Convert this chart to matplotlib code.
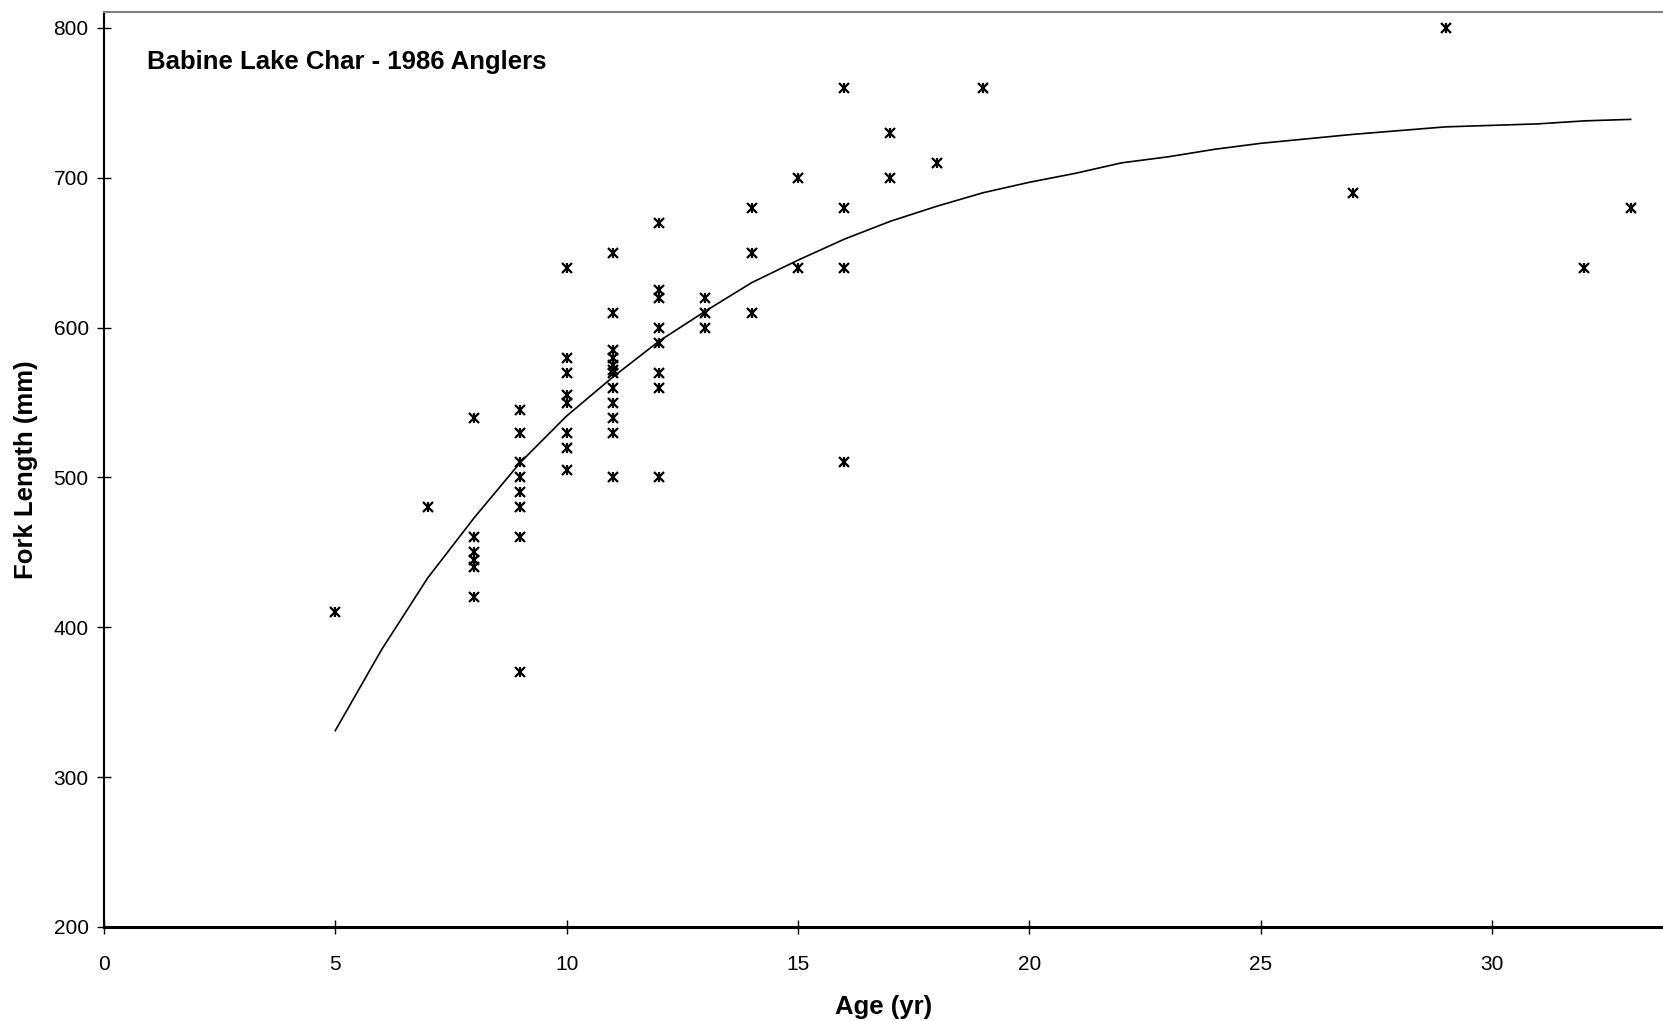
import matplotlib
matplotlib.use("Agg")
import matplotlib.pyplot as plt

plt.rcParams["font.family"] = ["Liberation Sans", "DejaVu Sans"]

# Observed fork lengths (mm) by age (yr), Babine Lake char, 1986 angler catch
ages = [5, 7,
        8, 8, 8, 8, 8, 8,
        9, 9, 9, 9, 9, 9, 9, 9,
        10, 10, 10, 10, 10, 10, 10, 10,
        11, 11, 11, 11, 11, 11, 11, 11, 11, 11, 11, 11,
        12, 12, 12, 12, 12, 12, 12, 12,
        13, 13, 13,
        14, 14, 14,
        15, 15,
        16, 16, 16, 16,
        17, 17, 18, 19, 27, 29, 32, 33]
lengths = [410, 480,
           540, 460, 450, 445, 440, 420,
           545, 530, 510, 500, 490, 480, 460, 370,
           640, 580, 570, 555, 550, 530, 520, 505,
           650, 610, 585, 580, 575, 572, 570, 560, 550, 540, 530, 500,
           670, 625, 620, 600, 590, 570, 560, 500,
           620, 610, 600,
           680, 650, 610,
           700, 640,
           760, 680, 640, 510,
           730, 700, 710, 760, 690, 800, 640, 680]

# Fitted growth curve
fit_ages = [5, 6, 7, 8, 9, 10, 11, 12, 13, 14, 15, 16, 17, 18, 19, 20, 21,
            22, 23, 24, 25, 27, 29, 30, 31, 32, 33]
fit_lengths = [331, 385, 433, 473, 510, 541, 567, 591, 611, 630, 645, 659,
               671, 681, 690, 697, 703, 710, 714, 719, 723, 729, 734, 735,
               736, 738, 739]

fig = plt.figure(figsize=(16.63, 10.21), dpi=100)
ax = fig.add_axes([0.0625, 0.0921, 0.9375, 0.8962])

ax.plot(fit_ages, fit_lengths, color="black", linewidth=1.2, zorder=2)
# star marker: X with a vertical bar through it
ax.plot(ages, lengths, linestyle="none", marker="x", markersize=7.5,
        markeredgewidth=1.6, color="black", zorder=3)
ax.plot(ages, lengths, linestyle="none", marker="|", markersize=7.5,
        markeredgewidth=1.6, color="black", zorder=3)

ax.set_xlim(0, 33.7)
ax.set_ylim(200, 810.7)
ax.set_xticks(range(0, 31, 5))
ax.set_yticks(range(200, 801, 100))
ax.tick_params(direction="inout", length=10, width=1, labelsize=15,
               colors="black")
ax.tick_params(axis="x", pad=15)
ax.tick_params(axis="y", pad=6)

ax.spines["right"].set_visible(False)
ax.spines["top"].set_color("#808080")
ax.spines["top"].set_linewidth(1.5)
ax.spines["left"].set_linewidth(1.5)
ax.spines["bottom"].set_linewidth(2.2)

ax.set_xlabel("Age (yr)", fontsize=18.5, fontweight="bold", labelpad=15)
ax.set_ylabel("Fork Length (mm)", fontsize=18.5, fontweight="bold", labelpad=11)

ax.text(0.0275, 0.945, "Babine Lake Char - 1986 Anglers", transform=ax.transAxes,
        fontsize=18.5, fontweight="bold", va="center", ha="left")

fig.savefig("out.png", dpi=100, facecolor="white")
